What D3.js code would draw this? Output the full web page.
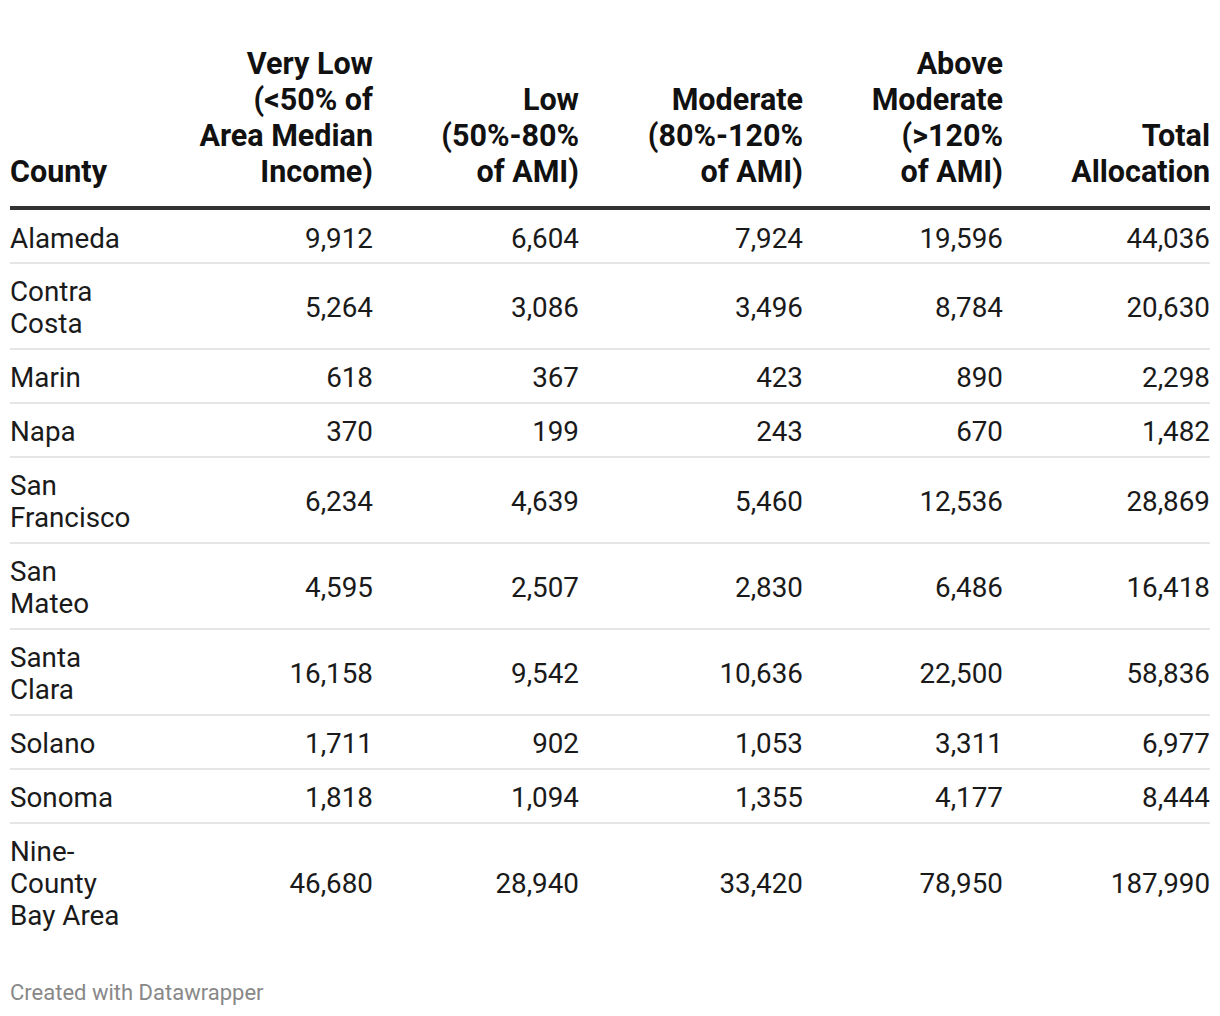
<!DOCTYPE html>
<html><head><meta charset="utf-8">
<script src="https://cdn.jsdelivr.net/npm/d3@7"></script>
<style>body{margin:0;background:#fff;}svg{display:block;font-family:Roboto,sans-serif;}</style>
</head><body>
<script>
const headers = [
  ["County"],
  ["Very Low","(<50% of","Area Median","Income)"],
  ["Low","(50%-80%","of AMI)"],
  ["Moderate","(80%-120%","of AMI)"],
  ["Above","Moderate","(>120%","of AMI)"],
  ["Total","Allocation"]
];
const counties = [["Alameda"],["Contra","Costa"],["Marin"],["Napa"],["San","Francisco"],["San","Mateo"],["Santa","Clara"],["Solano"],["Sonoma"],["Nine-","County","Bay Area"]];
const veryLow = [9912,5264,618,370,6234,4595,16158,1711,1818,46680];
const low = [6604,3086,367,199,4639,2507,9542,902,1094,28940];
const moderate = [7924,3496,423,243,5460,2830,10636,1053,1355,33420];
const aboveModerate = [19596,8784,890,670,12536,6486,22500,3311,4177,78950];
const total = [44036,20630,2298,1482,28869,16418,58836,6977,8444,187990];
const footer = "Created with Datawrapper";

const W=1220,H=1016;
const svg=d3.select("body").append("svg").attr("width",W).attr("height",H);
const colEdge=d3.scaleOrdinal().domain(d3.range(6)).range([10,373,579,803,1003,1210]);
const fmt=d3.format(",");
// header
const headBase=182, headLH=36;
headers.forEach((lines,c)=>{
  const t=svg.append("text").attr("x",colEdge(c)).attr("text-anchor",c===0?"start":"end")
    .attr("font-size",30.5).attr("font-weight",700).attr("fill","#111");
  lines.forEach((l,i)=>t.append("tspan").attr("x",colEdge(c)).attr("y",headBase-(lines.length-1-i)*headLH).text(l));
});
svg.append("line").attr("x1",10).attr("x2",1210).attr("y1",208).attr("y2",208).attr("stroke","#333").attr("stroke-width",4);
// rows
const lineH=32;
let rowTop=210;
const cols=[veryLow,low,moderate,aboveModerate,total];
counties.forEach((name,r)=>{
  const n=name.length;
  const h=22+lineH*n - (r===0?1:0);
  const t=svg.append("text").attr("x",colEdge(0)).attr("font-size",27.8).attr("fill","#1a1a1a");
  name.forEach((l,i)=>t.append("tspan").attr("x",colEdge(0)).attr("y",rowTop+27+lineH*i+10.5).text(l));
  const mid=rowTop+27+lineH*(n-1)/2+10.5;
  cols.forEach((arr,c)=>{
    svg.append("text").attr("x",colEdge(c+1)).attr("y",mid).attr("text-anchor","end")
      .attr("font-size",27.8).attr("fill","#1a1a1a").text(fmt(arr[r]));
  });
  rowTop+=h;
  if(r<counties.length-1)
    svg.append("line").attr("x1",10).attr("x2",1210).attr("y1",rowTop).attr("y2",rowTop).attr("stroke","#e6e6e6").attr("stroke-width",2);
});
svg.append("text").attr("x",10).attr("y",1000).attr("font-size",22).attr("fill","#888").text(footer);
</script>
</body></html>
